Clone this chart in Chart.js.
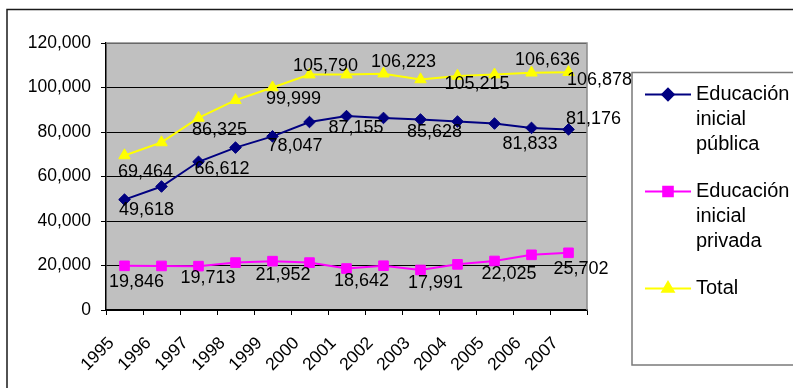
<!DOCTYPE html>
<html>
<head>
<meta charset="utf-8">
<script src="https://cdn.jsdelivr.net/npm/chart.js@4/dist/chart.umd.min.js"></script>
<style>
  html, body { margin: 0; padding: 0; background: #ffffff; }
  #wrap { width: 793px; height: 388px; position: relative; }
</style>
</head>
<body>
<div id="wrap"><canvas id="chart" width="793" height="388"></canvas></div>
<script>
// Matrícula en educación inicial, 1995-2007
const years = ['1995','1996','1997','1998','1999','2000','2001','2002','2003','2004','2005','2006','2007'];
const publica = [49618, 55500, 66612, 73000, 78047, 84490, 87155, 86320, 85628, 84700, 83800, 81833, 81176];
const privada = [19846, 19800, 19713, 21300, 21952, 21300, 18642, 19903, 17991, 20515, 22025, 24803, 25702];
const total   = [69464, 75300, 86325, 94300, 99999, 105790, 105797, 106223, 103619, 105215, 105825, 106636, 106878];
const seriesNames = ['Educación inicial pública', 'Educación inicial privada', 'Total'];
const yTicks = [0, 20000, 40000, 60000, 80000, 100000, 120000];

// Which points carry a value label, and where the label sits relative to the point (text centre, px)
const labelSpots = [
  { 0: [22, 9.5], 2: [23.5, 5.5], 4: [22.5, 8], 6: [9.5, 11], 8: [14, 11], 11: [-1.5, 15], 12: [25, -11.5] },
  { 0: [12, 15], 2: [9.5, 10.5], 4: [10.5, 12.5], 6: [15, 11.5], 8: [15, 11.5], 10: [14.5, 11.5], 12: [12.5, 14.5] },
  { 0: [21, 15], 2: [21, 11], 4: [21, 10], 5: [16, -10], 7: [20, -13], 9: [19.5, 6.5], 11: [16, -14.5], 12: [31, 6] }
];

const FONT = '"Liberation Sans", Arial, Helvetica, sans-serif';
const fmt = v => v.toLocaleString('en-US');

// Page frame, grey plot area and its top/right edges
const framePlugin = {
  id: 'frame',
  beforeDraw(chart) {
    const { ctx, chartArea: a } = chart;
    ctx.save();
    ctx.fillStyle = '#ffffff';
    ctx.fillRect(0, 0, chart.width, chart.height);
    ctx.fillStyle = '#c0c0c0';
    ctx.fillRect(a.left, a.top, a.right - a.left, a.bottom - a.top);
    ctx.strokeStyle = '#1a1a1a';
    ctx.lineWidth = 1.5;
    ctx.beginPath();
    ctx.moveTo(7, chart.height + 2);
    ctx.lineTo(7, 9.5);
    ctx.lineTo(chart.width + 2, 9.5);
    ctx.stroke();
    ctx.restore();
  },
  beforeDatasetsDraw(chart) {
    const { ctx, chartArea: a } = chart;
    ctx.save();
    ctx.strokeStyle = '#8a8a8a';
    ctx.lineWidth = 1.5;
    ctx.beginPath();
    ctx.moveTo(a.left, a.top);
    ctx.lineTo(a.right, a.top);
    ctx.lineTo(a.right, a.bottom);
    ctx.stroke();
    ctx.restore();
  }
};

// Value labels next to selected points
const valueLabelPlugin = {
  id: 'valueLabels',
  afterDatasetsDraw(chart) {
    const ctx = chart.ctx;
    ctx.save();
    ctx.font = '18px ' + FONT;
    ctx.fillStyle = '#000000';
    ctx.textAlign = 'center';
    ctx.textBaseline = 'alphabetic';
    chart.data.datasets.forEach((ds, di) => {
      const meta = chart.getDatasetMeta(di);
      const spots = labelSpots[di];
      Object.keys(spots).forEach(k => {
        const i = +k;
        const pt = meta.data[i];
        const [dx, dy] = spots[k];
        ctx.fillText(fmt(ds.data[i]), pt.x + dx, pt.y + dy + 6.4);
      });
    });
    ctx.restore();
  }
};

// Boxed legend with wrapped series names
const legendPlugin = {
  id: 'boxLegend',
  afterDraw(chart) {
    const ctx = chart.ctx;
    ctx.save();
    ctx.strokeStyle = '#7a7a7a';
    ctx.lineWidth = 1.5;
    ctx.strokeRect(632, 72.5, 200, 292.5);
    ctx.font = '20px ' + FONT;
    ctx.textAlign = 'left';
    ctx.textBaseline = 'alphabetic';
    const maxW = 96;
    let baseline = 100;
    chart.data.datasets.forEach((ds, di) => {
      // wrap name into lines
      const words = ds.label.split(' ');
      const lines = [];
      let cur = '';
      words.forEach(w => {
        const test = cur ? cur + ' ' + w : w;
        if (cur && ctx.measureText(test).width > maxW) { lines.push(cur); cur = w; }
        else cur = test;
      });
      if (cur) lines.push(cur);

      const my = baseline - 5.5;
      ctx.strokeStyle = ds.borderColor;
      ctx.lineWidth = 2;
      ctx.beginPath();
      ctx.moveTo(645, my);
      ctx.lineTo(691, my);
      ctx.stroke();
      ctx.fillStyle = ds.pointBackgroundColor;
      ctx.strokeStyle = ds.pointBorderColor;
      Chart.helpers.drawPoint(ctx, {
        pointStyle: ds.pointStyle, rotation: 0, radius: ds.pointRadius, borderWidth: 1
      }, 668, my);

      ctx.fillStyle = '#000000';
      lines.forEach((ln, li) => ctx.fillText(ln, 696, baseline + li * 25));
      baseline += (lines.length - 1) * 25 + 47;
    });
    ctx.restore();
  }
};

const colors = ['#000080', '#ff00ff', '#ffff00'];
const styles = [
  { pointStyle: 'rectRot', pointRadius: 5.8 },
  { pointStyle: 'rect', pointRadius: 6.8 },
  { pointStyle: 'triangle', pointRadius: 6.6 }
];
const values = [publica, privada, total];

const datasets = values.map((vals, i) => ({
  label: seriesNames[i],
  data: vals,
  borderColor: colors[i],
  backgroundColor: colors[i],
  pointBackgroundColor: colors[i],
  pointBorderColor: colors[i],
  pointBorderWidth: 1,
  borderWidth: 2,
  pointStyle: styles[i].pointStyle,
  pointRadius: styles[i].pointRadius,
  pointHoverRadius: styles[i].pointRadius,
  tension: 0,
  fill: false
}));

new Chart(document.getElementById('chart'), {
  type: 'line',
  data: { labels: years, datasets: datasets },
  options: {
    responsive: false,
    devicePixelRatio: 1,
    animation: false,
    events: [],
    layout: { padding: { left: 0, right: 206, top: 43, bottom: 0 } },
    plugins: {
      legend: { display: false },
      title: { display: false },
      tooltip: { enabled: false }
    },
    scales: {
      x: {
        type: 'category',
        offset: true,
        afterFit(scale) { scale.height = 78; },
        grid: {
          offset: true,
          drawOnChartArea: false,
          drawTicks: true,
          tickLength: 5,
          color: '#000000',
          lineWidth: 1
        },
        border: { display: true, color: '#000000', width: 1.5 },
        ticks: {
          autoSkip: false,
          maxRotation: 45,
          minRotation: 45,
          labelOffset: -13,
          padding: 18,
          color: '#000000',
          font: { family: FONT, size: 17.5 }
        }
      },
      y: {
        min: 0,
        max: 120000,
        afterFit(scale) { scale.width = 106; },
        afterBuildTicks(scale) { scale.ticks = yTicks.map(v => ({ value: v })); },
        grid: {
          color: '#000000',
          lineWidth: 1,
          tickLength: 5,
          drawTicks: true
        },
        border: { display: true, color: '#000000', width: 1.5 },
        ticks: {
          padding: 10,
          color: '#000000',
          font: { family: FONT, size: 17.5 },
          callback: v => fmt(v)
        }
      }
    }
  },
  plugins: [framePlugin, valueLabelPlugin, legendPlugin]
});
</script>
</body>
</html>
